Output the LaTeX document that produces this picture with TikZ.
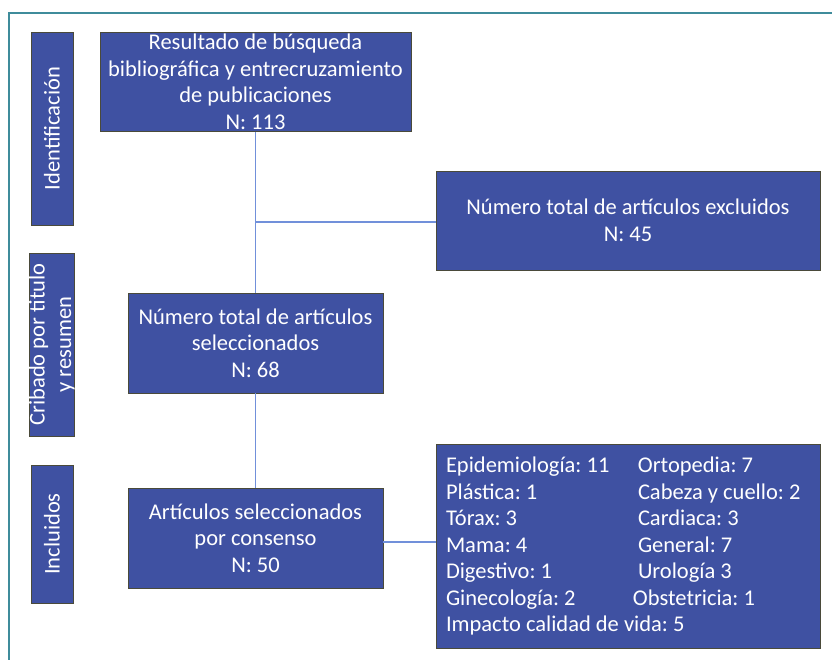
\documentclass[tikz,border=0pt]{standalone}
\usepackage{fontspec}
\setmainfont{Carlito}
\usepackage{tikz}
\usetikzlibrary{calc}
\usepackage{xcolor}
\definecolor{box_blue}{HTML}{3F51A2}
\definecolor{box_edge}{HTML}{4A4A3A}
\definecolor{link_blue}{HTML}{7190DA}
\definecolor{frame_teal}{HTML}{3F8C9B}
\newcommand{\leftcol}[1]{\makebox[192pt][l]{#1}}
\frenchspacing

\begin{document}
\begin{tikzpicture}[x=1pt, y=-1pt,
	flowbox/.style={draw=box_edge, line width=0.8pt, fill=box_blue, text=white, align=center,
		font=\fontsize{22.5}{26.5}\selectfont, inner sep=0pt},
	sidebar/.style={flowbox, rotate=90, minimum height=42pt},
	link/.style={draw=link_blue, line width=1.8pt}]
	\useasboundingbox (0, 0) rectangle (832, 660);
	\draw[frame_teal, line width=2pt] (9, 660) -- (9, 13) -- (832, 13);
	\node[sidebar, minimum width=193pt] (ident) at (52, 128.5) {Identificación};
	\node[sidebar, minimum width=183pt] (crib) at (52, 344.5) {Cribado por titulo\\y resumen};
	\node[sidebar, minimum width=138pt] (incl) at (52, 534) {Incluidos};
	\node[flowbox, minimum width=311pt, minimum height=99pt] (result) at (255.5, 82)
		{Resultado de búsqueda\\bibliográfica y entrecruzamiento\\de publicaciones\\N: 113};
	\node[flowbox, minimum width=384pt, minimum height=99pt] (excl) at (628, 220.5)
		{Número total de artículos excluidos\\N: 45};
	\node[flowbox, minimum width=255pt, minimum height=100pt] (select) at (255.5, 343)
		{Número total de artículos\\seleccionados\\N: 68};
	\node[flowbox, minimum width=255pt, minimum height=100pt] (consens) at (255.5, 538)
		{Artículos seleccionados\\por consenso\\N: 50};
	\node[flowbox, minimum width=384pt, minimum height=204pt, text width=364pt, align=flush left] (areas) at (628, 546)
		{\leftcol{Epidemiología: 11}Ortopedia: 7\\
		\leftcol{Plástica: 1}Cabeza y cuello: 2\\
		\leftcol{Tórax: 3}Cardiaca: 3\\
		\leftcol{Mama: 4}General: 7\\
		\leftcol{Digestivo: 1}Urología 3\\
		\leftcol{Ginecología: 2}\hspace*{-5pt}Obstetricia: 1\\
		Impacto calidad de vida: 5};
	\coordinate (J1) at ($(result.south |- excl.west) + (0, 1.5)$);
	\draw[link] (result.south) -- (select.north);
	\draw[link] (J1) -- (J1 -| excl.west);
	\draw[link] (select.south) -- (consens.north);
	\draw[link] ($(consens.east) + (0, 4)$) -- ($(consens.east -| areas.west) + (0, 4)$);
\end{tikzpicture}
\end{document}
